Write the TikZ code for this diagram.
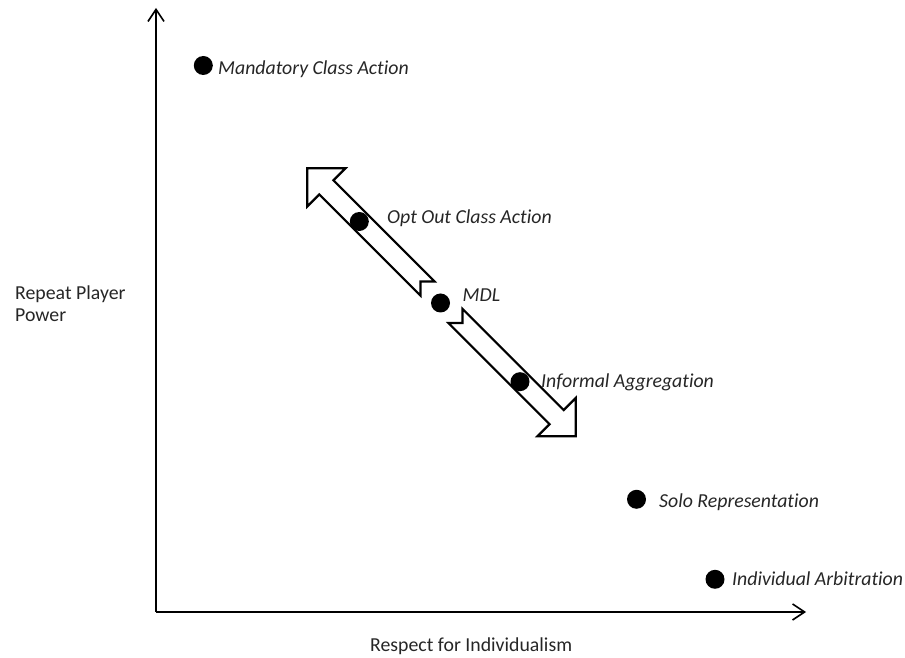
\documentclass[tikz,border=0pt]{standalone}
\usepackage{fontspec}
\setmainfont{Carlito}[Ligatures={NoCommon}]
\usetikzlibrary{arrows.meta}
\begin{document}
\begin{tikzpicture}[x=1pt,y=1pt,
  axis/.style={line width=1.6pt,-{Straight Barb[length=12pt,width=16pt,line width=1.6pt]}},
  dot/.style={circle,fill=black,inner sep=0pt,minimum size=19pt},
  lbl/.style={anchor=base west,inner sep=0pt,text=black!85,font=\fontsize{19.8}{22}\selectfont\itshape},
  axlbl/.style={inner sep=0pt,text=black!85,font=\fontsize{19.8}{21.7}\selectfont},
  blockarrow/.style={draw=black,fill=white,line width=2.2pt,line join=miter},
  notcharrow/.pic={\path[blockarrow] (0,10) -- (143,10) -- (143,27) -- (170,0) -- (143,-27) -- (143,-10) -- (0,-10) -- (10,0) -- cycle;}
]
\useasboundingbox (0,0) rectangle (905,658);
% axes
\coordinate (O) at (156,46);
\coordinate (Ytop) at (156,650);
\coordinate (Xend) at (806,46);
\draw[axis] (O) -- (Ytop);
\draw[axis] (O) -- (Xend);
\node[axlbl,anchor=base west,align=left] (ylab) at (15,336.3) {Repeat Player\\Power};
\node[axlbl,anchor=base west] (xlab) at (370,6) {Respect for Individualism};
% block arrows
\pic[rotate=135] at (427.5,369.5) {notcharrow};
\pic[rotate=-45] at (455.5,342) {notcharrow};
% dots
\node[dot] (mca) at (203.3,592.5) {};
\node[dot] (opt) at (359.3,436.5) {};
\node[dot] (mdl) at (440.5,355) {};
\node[dot] (inf) at (520,276.3) {};
\node[dot] (solo) at (636.5,158.7) {};
\node[dot] (ind) at (715,78.7) {};
% labels
\node[lbl] (mcal) at (218,583.5) {Mandatory Class Action};
\node[lbl] (optl) at (387,434) {Opt Out Class Action};
\node[lbl] (mdll) at (462.5,356.5) {MDL};
\node[lbl] (infl) at (541,270) {Informal Aggregation};
\node[lbl] (solol) at (659,150) {Solo Representation};
\node[lbl] (indl) at (732,72) {Individual Arbitration};
\end{tikzpicture}
\end{document}
